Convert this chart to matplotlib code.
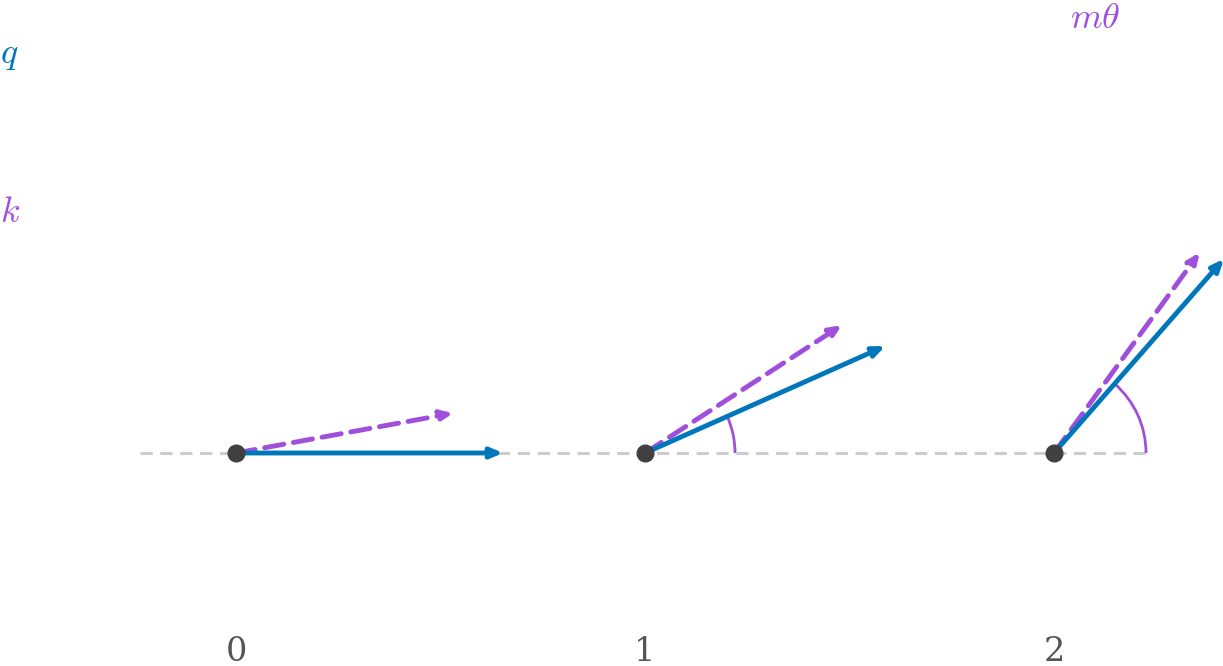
import numpy as np
import matplotlib
matplotlib.use("Agg")
import matplotlib.pyplot as plt
from matplotlib.patches import Arc

plt.rcParams["mathtext.fontset"] = "cm"

positions = [0, 1, 2]
q_angles = [0, 24, 48.8]
k_angles = [10.4, 33, 54]
q_len = [267, 263, 258]
k_len = [221, 235, 248]
tick_labels = ["0", "1", "2"]

BLUE = "#0077bb"
PURP = "#a04fdc"
x0, step, y0 = 236, 409, 453

fig = plt.figure(figsize=(12.23, 6.66), dpi=100)
ax = fig.add_axes([0, 0, 1, 1])
ax.set_xlim(0, 1223); ax.set_ylim(666, 0); ax.axis("off")

ax.plot([140, 1150], [y0, y0], ls=(0, (4, 2.5)), color="#cccccc", lw=2.2, zorder=1)
for p, qa, ka, ql, kl, t in zip(positions, q_angles, k_angles, q_len, k_len, tick_labels):
    cx = x0 + p * step
    for a, L, c, ls in [(ka, kl, PURP, (0, (4, 2))), (qa, ql, BLUE, "-")]:
        r = np.radians(a)
        ax.annotate("", xy=(cx + L*np.cos(r), y0 - L*np.sin(r)), xytext=(cx, y0),
                    annotation_clip=False,
                    arrowprops=dict(arrowstyle="-|>,head_length=0.7,head_width=0.3",
                                    color=c, lw=3.5, ls=ls, shrinkA=0, shrinkB=0), zorder=3)
    if qa > 0:
        rad = 90 if p == 1 else 92
        ax.add_patch(Arc((cx, y0), 2*rad, 2*rad, theta1=-qa, theta2=0, color=PURP, lw=2, zorder=2))
    ax.plot(cx, y0, "o", color="#404040", ms=12, zorder=4)
    ax.text(cx, 652, t, ha="center", va="center", fontsize=24, color="#555555", family="DejaVu Serif")

ax.text(0, 55, r"$q$", color=BLUE, fontsize=26, ha="left", va="center")
ax.text(0, 212, r"$k$", color=PURP, fontsize=26, ha="left", va="center")
ax.text(1095, 18, r"$m\theta$", color=PURP, fontsize=26, ha="center", va="center")
fig.savefig("out.png", dpi=100)
